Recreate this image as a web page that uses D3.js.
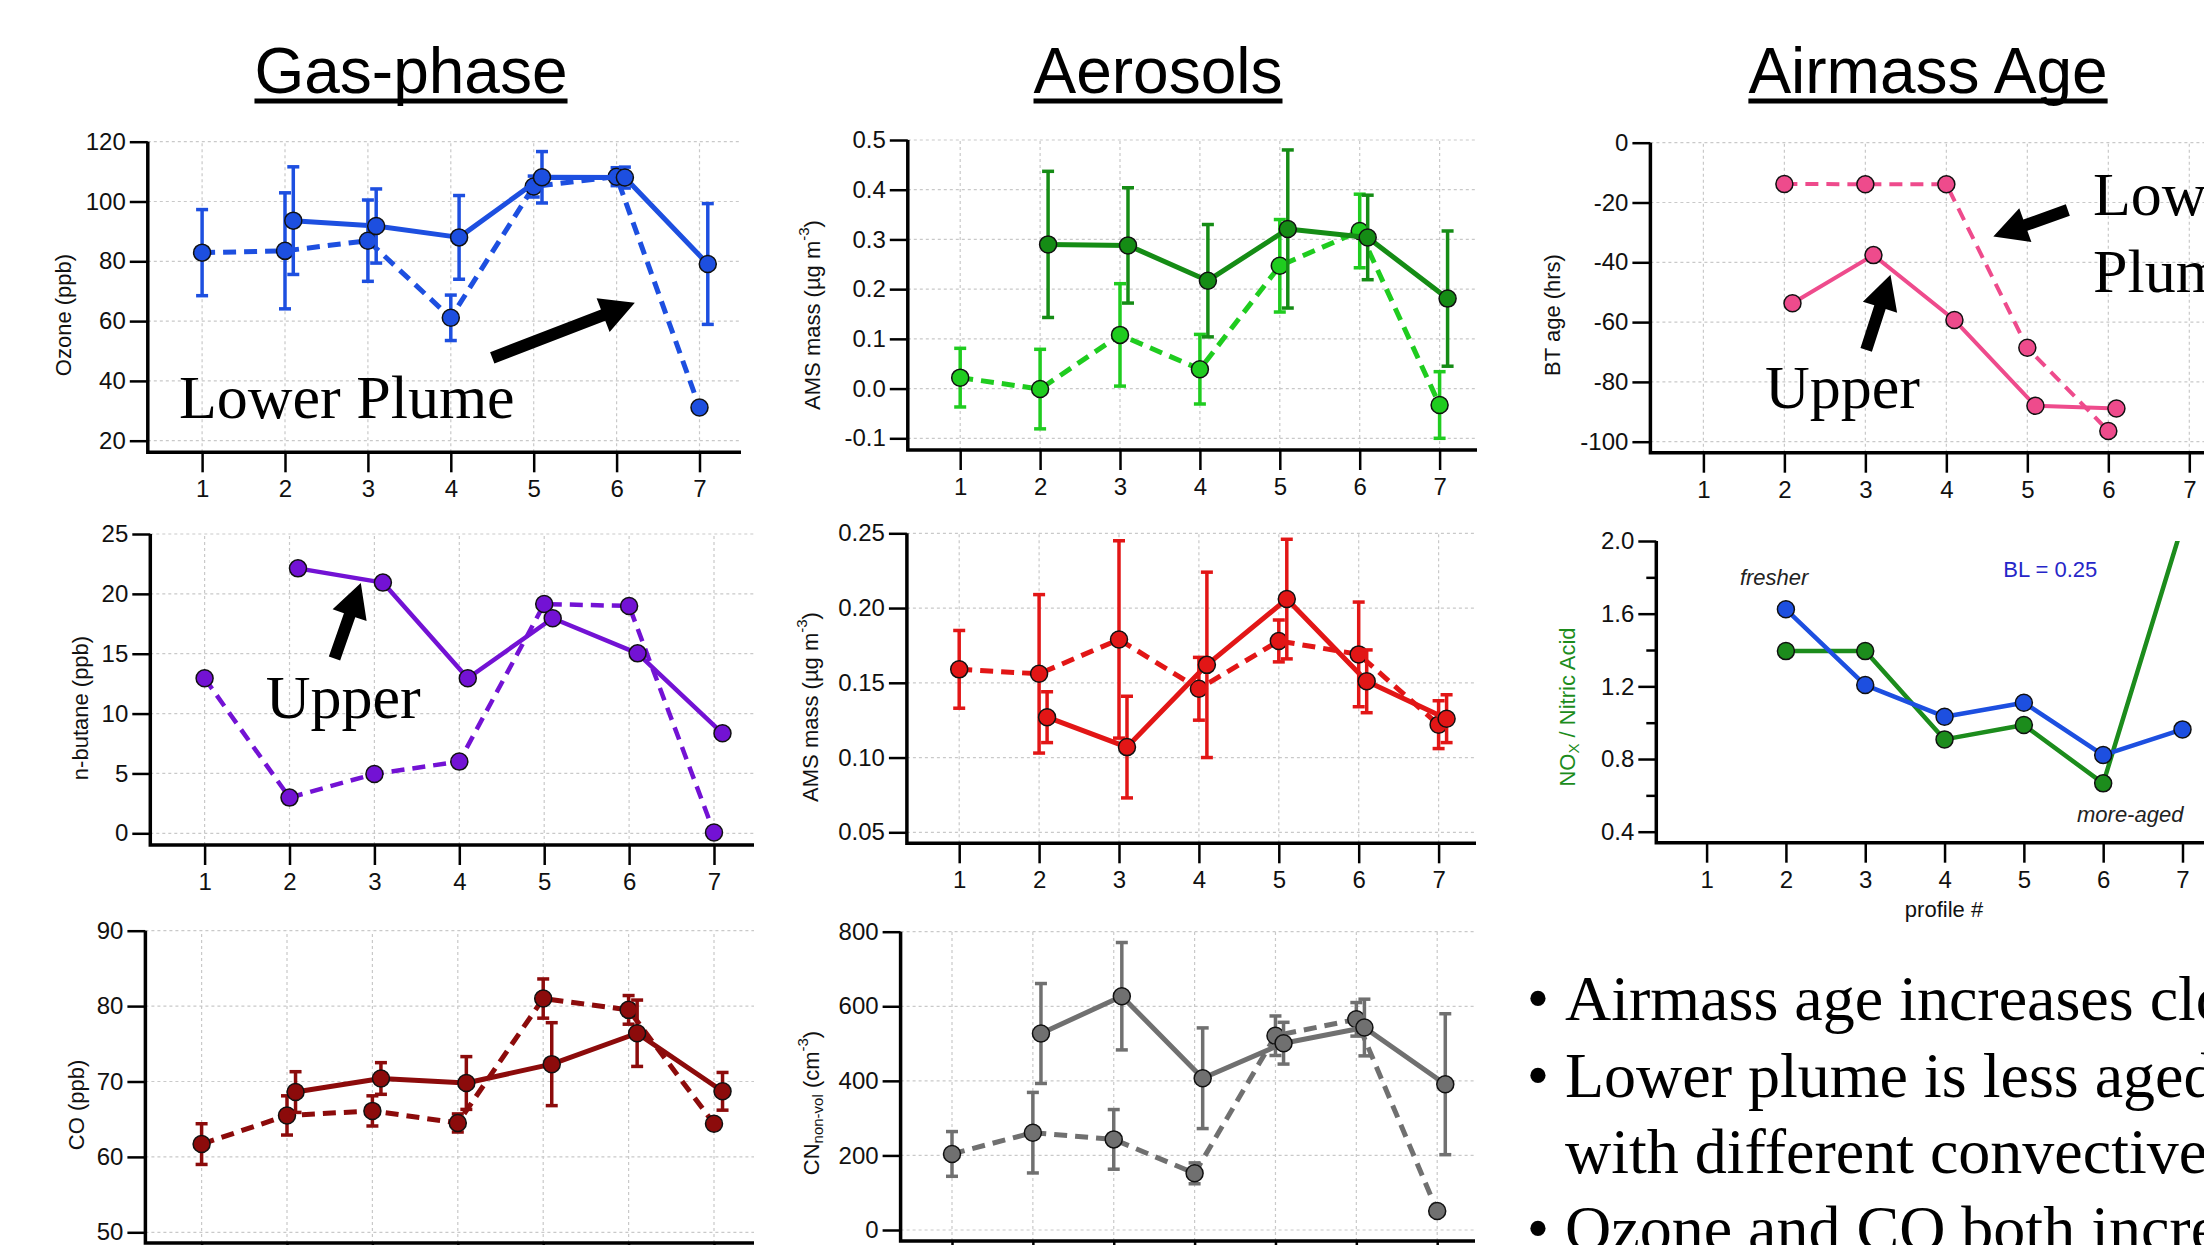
<!DOCTYPE html>
<html><head><meta charset="utf-8">
<script src="https://cdn.jsdelivr.net/npm/d3@7"></script>
<style>body{margin:0;background:#fff;overflow:hidden} svg{display:block}</style>
</head><body>
<svg id="c" width="2204" height="1245"></svg>
<script>
// ---------------- DATA ----------------
const profiles = [1, 2, 3, 4, 5, 6, 7];
const lowerX = [1, 2, 3, 4, 5, 6, 7];
const upperX = [2.1, 3.1, 4.1, 5.1, 6.1, 7.1];
const btLowerX = [2, 3, 4, 5, 6];
const btUpperX = [2.1, 3.1, 4.1, 5.1, 6.1];
const noxX = [2, 3, 4, 5, 6, 7];

const ozoneLower = [82.9, 83.5, 86.9, 61.1, 105.0, 108.3, 31.1];
const ozoneLowerErr = [14.4, 19.4, 13.6, 7.6, 3.5, 3.0, 0];
const ozoneUpper = [93.6, 91.8, 88.0, 108.1, 108.0, 79.1];
const ozoneUpperErr = [18.0, 12.4, 14.0, 8.6, 3.5, 20.2];

const amsLower = [0.022, -0.001, 0.108, 0.039, 0.247, 0.317, -0.033];
const amsLowerErr = [0.059, 0.080, 0.103, 0.070, 0.093, 0.074, 0.067];
const amsUpper = [0.290, 0.288, 0.217, 0.321, 0.304, 0.181];
const amsUpperErr = [0.147, 0.116, 0.113, 0.159, 0.085, 0.136];

const btLower = [-13.8, -13.9, -13.9, -68.6, -96.4];
const btUpper = [-53.7, -37.6, -59.3, -88.0, -88.9];

const butaneLower = [12.95, 2.98, 4.96, 5.99, 19.15, 18.99, 0.06];
const butaneUpper = [22.13, 20.94, 12.95, 17.96, 15.03, 8.35];

const orgLower = [0.159, 0.156, 0.179, 0.146, 0.178, 0.169, 0.122];
const orgLowerErr = [0.026, 0.053, 0.066, 0.021, 0.014, 0.035, 0.016];
const orgUpper = [0.127, 0.107, 0.162, 0.206, 0.151, 0.126];
const orgUpperErr = [0.017, 0.034, 0.062, 0.040, 0.021, 0.016];

const noxGreen = [1.394, 1.394, 0.908, 0.987, 0.666, 2.09];
const noxBlue = [1.624, 1.207, 1.033, 1.110, 0.822, 0.963];

const coLower = [61.7, 65.5, 66.1, 64.5, 81.0, 79.5, 64.4];
const coLowerErr = [2.7, 2.6, 2.0, 1.2, 2.6, 1.9, 0.5];
const coUpper = [68.6, 70.4, 69.8, 72.3, 76.4, 68.7];
const coUpperErr = [2.7, 2.1, 3.5, 5.5, 4.4, 2.5];

const cnLower = [204, 261, 243, 152, 521, 565, 51];
const cnLowerErr = [60, 108, 80, 28, 53, 45, 0];
const cnUpper = [527, 627, 407, 501, 543, 391];
const cnUpperErr = [134, 144, 135, 56, 76, 189];

const ozoneTicks = [20, 40, 60, 80, 100, 120];
const amsTicks = [-0.1, 0.0, 0.1, 0.2, 0.3, 0.4, 0.5];
const btTicks = [-100, -80, -60, -40, -20, 0];
const butaneTicks = [0, 5, 10, 15, 20, 25];
const orgTicks = [0.05, 0.10, 0.15, 0.20, 0.25];
const noxTicks = [0.4, 0.8, 1.2, 1.6, 2.0];
const noxMinorTicks = [0.6, 1.0, 1.4, 1.8];
const coTicks = [50, 60, 70, 80, 90];
const cnTicks = [0, 200, 400, 600, 800];

const columnTitles = ["Gas-phase", "Aerosols", "Airmass Age"];
const bulletLines = [
  {bullet: true, text: "Airmass age increases closer"},
  {bullet: true, text: "Lower plume is less aged"},
  {bullet: false, text: "with different convective"},
  {bullet: true, text: "Ozone and CO both increase"}
];

// ---------------- STYLE / LAYOUT ----------------
const SANS = "'Liberation Sans', Arial, Helvetica, sans-serif";
const SERIF = "'Liberation Serif', 'Times New Roman', Times, serif";
const svg = d3.select("#c");
svg.append("rect").attr("width", 2204).attr("height", 1245).attr("fill", "#fff");

const C = {
  blue: "#1d4fe0", gLight: "#1fcc1f", gDark: "#158c15", pink: "#ee4b8c",
  purple: "#7312d4", red: "#e21616", noxGreen: "#1c8c1c", co: "#8c0b0b", cn: "#707070"
};

const panels = [
  {id: "oz", L: {axisX: 147.8, x1: 202.1, x7: 699.5, xEnd: 741, yLo: 20, yLoPx: 440.7, yHi: 120, yHiPx: 141.7, axisY: 452.3},
   ticks: ozoneTicks, fmt: d => String(d), grid: true,
   ylabel: [{t: "Ozone (ppb)"}], ylab: [63, 315],
   series: [
     {x: lowerX, y: ozoneLower, e: ozoneLowerErr, color: C.blue, dashed: true},
     {x: upperX, y: ozoneUpper, e: ozoneUpperErr, color: C.blue, dashed: false}]},
  {id: "ams", L: {axisX: 907.8, x1: 960.2, x7: 1439.6, xEnd: 1477, yLo: -0.1, yLoPx: 438.3, yHi: 0.5, yHiPx: 140, axisY: 450},
   ticks: amsTicks, fmt: d => d.toFixed(1), grid: true,
   ylabel: [{t: "AMS mass (\u00b5g m"}, {t: "-3", sup: true}, {t: ")"}], ylab: [812, 315],
   series: [
     {x: lowerX, y: amsLower, e: amsLowerErr, color: C.gLight, dashed: true},
     {x: upperX, y: amsUpper, e: amsUpperErr, color: C.gDark, dashed: false}]},
  {id: "bt", L: {axisX: 1650.4, x1: 1703.4, x7: 2189.3, xEnd: 2235, yLo: -100, yLoPx: 441.7, yHi: 0, yHiPx: 142.7, axisY: 452.7},
   ticks: btTicks, fmt: d => String(d), grid: true,
   ylabel: [{t: "BT age (hrs)"}], ylab: [1552, 315], lw: 4,
   series: [
     {x: btLowerX, y: btLower, color: C.pink, dashed: true},
     {x: btUpperX, y: btUpper, color: C.pink, dashed: false}]},
  {id: "but", L: {axisX: 150.3, x1: 204.6, x7: 714, xEnd: 754, yLo: 0, yLoPx: 833.3, yHi: 25, yHiPx: 534, axisY: 845},
   ticks: butaneTicks, fmt: d => String(d), grid: true,
   ylabel: [{t: "n-butane (ppb)"}], ylab: [80, 708], lw: 4.5,
   series: [
     {x: lowerX, y: butaneLower, color: C.purple, dashed: true},
     {x: upperX, y: butaneUpper, color: C.purple, dashed: false}]},
  {id: "org", L: {axisX: 906.9, x1: 959.2, x7: 1438.6, xEnd: 1476, yLo: 0.05, yLoPx: 832.3, yHi: 0.25, yHiPx: 533.3, axisY: 843.3},
   ticks: orgTicks, fmt: d => d.toFixed(2), grid: true,
   ylabel: [{t: "AMS mass (\u00b5g m"}, {t: "-3", sup: true}, {t: ")"}], ylab: [810, 707],
   series: [
     {x: lowerX, y: orgLower, e: orgLowerErr, color: C.red, dashed: true},
     {x: upperX, y: orgUpper, e: orgUpperErr, color: C.red, dashed: false}]},
  {id: "nox", L: {axisX: 1656.3, x1: 1706.6, x7: 2182.5, xEnd: 2230, yLo: 0.4, yLoPx: 831.7, yHi: 2.0, yHiPx: 541, axisY: 842.7},
   ticks: noxTicks, minor: noxMinorTicks, fmt: d => d.toFixed(1), grid: false, clip: true,
   ylabel: [{t: "NO"}, {t: "X", sub: true}, {t: " / Nitric Acid"}], ylabColor: "#1c8c1c", ylab: [1567, 707], lw: 4.5,
   xlabel: "profile #",
   series: [
     {x: noxX, y: noxGreen, color: C.noxGreen, dashed: false},
     {x: noxX, y: noxBlue, color: C.blue, dashed: false}]},
  {id: "co", L: {axisX: 145.4, x1: 201.6, x7: 714, xEnd: 754, yLo: 50, yLoPx: 1232.3, yHi: 90, yHiPx: 930.7, axisY: 1243},
   ticks: coTicks, fmt: d => String(d), grid: true, noXLabels: true,
   ylabel: [{t: "CO (ppb)"}], ylab: [76, 1105],
   series: [
     {x: lowerX, y: coLower, e: coLowerErr, color: C.co, dashed: true},
     {x: upperX, y: coUpper, e: coUpperErr, color: C.co, dashed: false}]},
  {id: "cn", L: {axisX: 900.6, x1: 952, x7: 1437.2, xEnd: 1475, yLo: 0, yLoPx: 1230, yHi: 800, yHiPx: 931.7, axisY: 1241},
   ticks: cnTicks, fmt: d => String(d), grid: true, noXLabels: true,
   ylabel: [{t: "CN"}, {t: "non-vol", sub: true}, {t: " (cm"}, {t: "-3", sup: true}, {t: ")"}], ylab: [811, 1103],
   series: [
     {x: lowerX, y: cnLower, e: cnLowerErr, color: C.cn, dashed: true},
     {x: upperX, y: cnUpper, e: cnUpperErr, color: C.cn, dashed: false}]}
];

// annotations (positions in data units of their panel)
const arrows = [
  {panel: "oz", from: [4.50, 47.7], to: [6.22, 66.1]},
  {panel: "bt", from: [3.01, -69.3], to: [3.31, -44.2]},
  {panel: "bt", from: [5.50, -22.5], to: [4.58, -31.4]},
  {panel: "but", from: [2.53, 14.6], to: [2.84, 20.9]}
];
const serifNotes = [
  {panel: "oz", at: [0.72, 27.6], text: "Lower Plume"},
  {panel: "bt", at: [1.76, -88.7], text: "Upper"},
  {panel: "bt", at: [5.81, -24.2], text: "Lower"},
  {panel: "bt", at: [5.81, -49.9], text: "Plume"},
  {panel: "but", at: [1.72, 9.63], text: "Upper"}
];
const smallNotes = [
  {panel: "nox", at: [1.42, 1.758], text: "fresher", color: "#222", italic: true},
  {panel: "nox", at: [4.74, 1.803], text: "BL = 0.25", color: "#2626c8", italic: false},
  {panel: "nox", at: [5.67, 0.455], text: "more-aged", color: "#222", italic: true}
];

// ---------------- DRAW ----------------
const scales = {};
const TICKFONT = 24, LABFONT = 22;

panels.forEach(p => {
  const L = p.L;
  const x = d3.scaleLinear().domain([1, 7]).range([L.x1, L.x7]);
  const y = d3.scaleLinear().domain([L.yLo, L.yHi]).range([L.yLoPx, L.yHiPx]);
  scales[p.id] = {x, y};
  const g = svg.append("g").attr("class", "panel-" + p.id);

  if (p.grid) {
    g.append("g").selectAll("line").data(p.ticks).join("line")
      .attr("x1", L.axisX).attr("x2", L.xEnd).attr("y1", d => y(d)).attr("y2", d => y(d))
      .attr("stroke", "#c9c9c9").attr("stroke-width", 1.2).attr("stroke-dasharray", "3,3");
    g.append("g").selectAll("line").data(profiles).join("line")
      .attr("x1", d => x(d)).attr("x2", d => x(d)).attr("y1", L.axisY).attr("y2", L.yHiPx)
      .attr("stroke", "#c9c9c9").attr("stroke-width", 1.2).attr("stroke-dasharray", "3,3");
  }

  const ya = g.append("g").attr("transform", `translate(${L.axisX},0)`)
    .call(d3.axisLeft(y).tickValues(p.ticks).tickSize(18).tickPadding(4).tickFormat(p.fmt));
  if (p.minor) {
    g.append("g").attr("transform", `translate(${L.axisX},0)`)
      .call(d3.axisLeft(y).tickValues(p.minor).tickSize(10).tickFormat(""))
      .call(a => a.select(".domain").remove())
      .selectAll("line").attr("stroke", "#000").attr("stroke-width", 2.5);
  }
  const xa = g.append("g").attr("transform", `translate(0,${L.axisY})`)
    .call(d3.axisBottom(x).tickValues(profiles).tickSize(20).tickPadding(8)
      .tickFormat(p.noXLabels ? "" : d3.format("d")));
  [ya, xa].forEach(a => {
    a.select(".domain").remove();
    a.selectAll("line").attr("stroke", "#000").attr("stroke-width", 2.5);
    a.selectAll("text").attr("font-family", SANS).attr("font-size", TICKFONT).attr("fill", "#111");
  });
  if (p.noXLabels) xa.selectAll("text").remove();
  g.append("path")
    .attr("d", `M${L.axisX},${L.yHiPx}V${L.axisY}H${L.xEnd}`)
    .attr("fill", "none").attr("stroke", "#000").attr("stroke-width", 3.5);

  const yl = g.append("text")
    .attr("transform", `translate(${p.ylab[0]},${p.ylab[1]}) rotate(-90)`)
    .attr("text-anchor", "middle").attr("dominant-baseline", "central")
    .attr("font-family", SANS).attr("font-size", LABFONT).attr("fill", p.ylabColor || "#111");
  p.ylabel.forEach((s, i) => {
    const ts = yl.append("tspan").text(s.t);
    const prev = p.ylabel[i - 1];
    let dy = 0;
    if (prev && prev.sup) dy += 9;
    if (prev && prev.sub) dy -= 6;
    if (s.sup) { ts.attr("font-size", 15); dy -= 9; }
    if (s.sub) { ts.attr("font-size", 15); dy += 6; }
    if (dy) ts.attr("dy", dy);
  });

  if (p.xlabel) {
    g.append("text").attr("x", 1944).attr("y", 917).attr("text-anchor", "middle")
      .attr("font-family", SANS).attr("font-size", LABFONT).attr("fill", "#111").text(p.xlabel);
  }

  const plot = g.append("g");
  if (p.clip) {
    svg.append("defs").append("clipPath").attr("id", "clip-" + p.id)
      .append("rect").attr("x", L.axisX).attr("y", L.yHiPx)
      .attr("width", L.xEnd - L.axisX).attr("height", L.axisY - L.yHiPx);
    plot.attr("clip-path", `url(#clip-${p.id})`);
  }

  const lw = p.lw || 5;
  p.series.forEach(s => {
    const pts = s.x.map((xv, i) => ({x: xv, y: s.y[i], e: s.e ? s.e[i] : 0}));
    const sg = plot.append("g");
    sg.append("path").datum(pts)
      .attr("d", d3.line().x(d => x(d.x)).y(d => y(d.y)))
      .attr("fill", "none").attr("stroke", s.color).attr("stroke-width", lw)
      .attr("stroke-dasharray", s.dashed ? "13,8" : null).attr("stroke-linejoin", "round");
    const eb = pts.filter(d => d.e > 0);
    sg.append("g").selectAll("line").data(eb).join("line")
      .attr("x1", d => x(d.x)).attr("x2", d => x(d.x))
      .attr("y1", d => y(d.y - d.e)).attr("y2", d => y(d.y + d.e))
      .attr("stroke", s.color).attr("stroke-width", 3.5);
    [-1, 1].forEach(sign => {
      sg.append("g").selectAll("line").data(eb).join("line")
        .attr("x1", d => x(d.x) - 6).attr("x2", d => x(d.x) + 6)
        .attr("y1", d => y(d.y + sign * d.e)).attr("y2", d => y(d.y + sign * d.e))
        .attr("stroke", s.color).attr("stroke-width", 3.5);
    });
    sg.append("g").selectAll("circle").data(pts.filter(d => d.y <= L.yHi)).join("circle")
      .attr("cx", d => x(d.x)).attr("cy", d => y(d.y)).attr("r", 8.5)
      .attr("fill", s.color).attr("stroke", "#111").attr("stroke-width", 1.5);
  });
});

// column titles
const titleX = [411, 1158, 1928];
columnTitles.forEach((t, i) => {
  const tx = svg.append("text").attr("x", titleX[i]).attr("y", 93).attr("text-anchor", "middle")
    .attr("font-family", SANS).attr("font-size", 64).attr("fill", "#000").text(t);
  const w = tx.node().getComputedTextLength();
  svg.append("line").attr("x1", titleX[i] - w / 2).attr("x2", titleX[i] + w / 2)
    .attr("y1", 101).attr("y2", 101).attr("stroke", "#000").attr("stroke-width", 5);
});

function arrowPath(x0, y0, x1, y1, sw, hl, hw) {
  const dx = x1 - x0, dy = y1 - y0, len = Math.hypot(dx, dy);
  const ux = dx / len, uy = dy / len, nx = -uy, ny = ux;
  const bx = x1 - ux * hl, by = y1 - uy * hl;
  const P = [
    [x0 + nx * sw / 2, y0 + ny * sw / 2], [bx + nx * sw / 2, by + ny * sw / 2],
    [bx + nx * hw / 2, by + ny * hw / 2], [x1, y1],
    [bx - nx * hw / 2, by - ny * hw / 2], [bx - nx * sw / 2, by - ny * sw / 2],
    [x0 - nx * sw / 2, y0 - ny * sw / 2]];
  return "M" + P.map(p => p.join(",")).join("L") + "Z";
}
arrows.forEach(a => {
  const s = scales[a.panel];
  svg.append("path")
    .attr("d", arrowPath(s.x(a.from[0]), s.y(a.from[1]), s.x(a.to[0]), s.y(a.to[1]), 12, 34, 36))
    .attr("fill", "#000");
});
serifNotes.forEach(n => {
  const s = scales[n.panel];
  svg.append("text").attr("x", s.x(n.at[0])).attr("y", s.y(n.at[1]))
    .attr("font-family", SERIF).attr("font-size", 62).attr("fill", "#000").text(n.text);
});
smallNotes.forEach(n => {
  const s = scales[n.panel];
  svg.append("text").attr("x", s.x(n.at[0])).attr("y", s.y(n.at[1]))
    .attr("font-family", SANS).attr("font-size", 22).attr("font-style", n.italic ? "italic" : "normal")
    .attr("fill", n.color).text(n.text);
});

// bullet text block
const lineY = [1020, 1097, 1173, 1250];
bulletLines.forEach((b, i) => {
  if (b.bullet) {
    svg.append("text").attr("x", 1538).attr("y", lineY[i]).attr("text-anchor", "middle")
      .attr("font-family", SERIF).attr("font-size", 64).attr("fill", "#000").text("\u2022");
  }
  svg.append("text").attr("x", 1565).attr("y", lineY[i])
    .attr("font-family", SERIF).attr("font-size", 64).attr("fill", "#000").text(b.text);
});
</script>
</body></html>
